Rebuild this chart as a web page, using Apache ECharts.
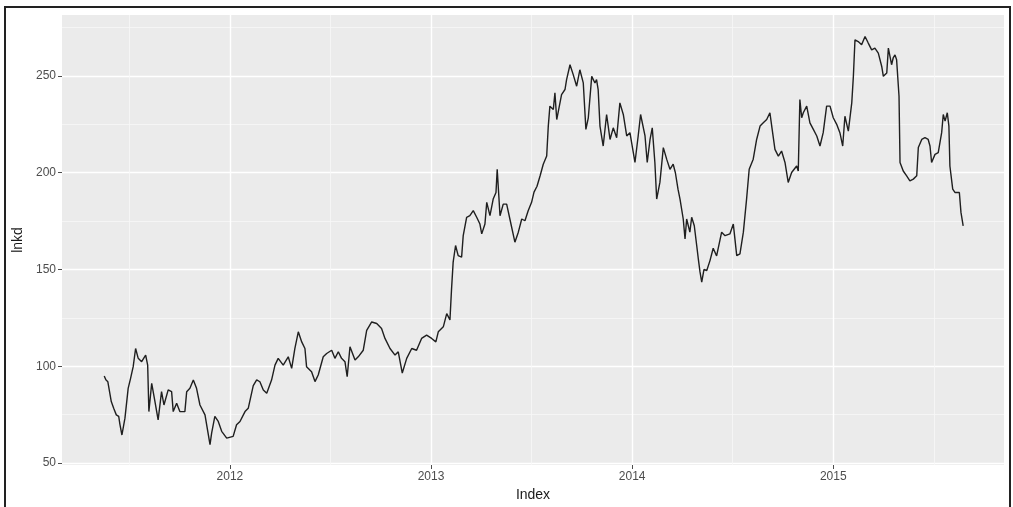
<!DOCTYPE html>
<html>
<head>
<meta charset="utf-8">
<title>lnkd</title>
<script src="https://cdn.jsdelivr.net/npm/echarts@6/dist/echarts.min.js"></script>
<style>
  body { margin: 0; background: #fff; }
  #wrap { position: relative; width: 1013px; height: 507px; overflow: hidden; }
  #chart { width: 1013px; height: 507px; }
  #frame { position: absolute; left: 4px; top: 6px; width: 1007px; height: 540px;
           box-sizing: border-box; border: 2px solid #222; pointer-events: none; }
</style>
</head>
<body>
<div id="wrap">
  <div id="chart"></div>
  <div id="frame"></div>
</div>
<script>
// index as decimal year
var years = [
  2011.375, 2011.383, 2011.393, 2011.410, 2011.422, 2011.435, 2011.447, 2011.453, 2011.463, 2011.478,
  2011.494, 2011.506, 2011.519, 2011.531, 2011.544, 2011.561, 2011.581, 2011.591, 2011.597, 2011.611,
  2011.619, 2011.627, 2011.643, 2011.660, 2011.672, 2011.693, 2011.710, 2011.718, 2011.735, 2011.751,
  2011.776, 2011.785, 2011.801, 2011.818, 2011.834, 2011.851, 2011.876, 2011.901, 2011.909, 2011.925,
  2011.942, 2011.959, 2011.984, 2012.016, 2012.033, 2012.050, 2012.075, 2012.091, 2012.116, 2012.133,
  2012.149, 2012.166, 2012.183, 2012.207, 2012.224, 2012.240, 2012.265, 2012.290, 2012.307, 2012.323,
  2012.340, 2012.357, 2012.373, 2012.381, 2012.406, 2012.423, 2012.439, 2012.464, 2012.481, 2012.506,
  2012.522, 2012.539, 2012.555, 2012.572, 2012.583, 2012.597, 2012.622, 2012.638, 2012.663, 2012.680,
  2012.705, 2012.730, 2012.754, 2012.771, 2012.796, 2012.821, 2012.837, 2012.857, 2012.879, 2012.904,
  2012.928, 2012.953, 2012.978, 2013.003, 2013.024, 2013.036, 2013.061, 2013.078, 2013.094, 2013.102,
  2013.110, 2013.122, 2013.135, 2013.152, 2013.160, 2013.177, 2013.193, 2013.210, 2013.227, 2013.243,
  2013.252, 2013.268, 2013.277, 2013.293, 2013.309, 2013.323, 2013.329, 2013.343, 2013.359, 2013.376,
  2013.392, 2013.417, 2013.434, 2013.451, 2013.467, 2013.483, 2013.500, 2013.512, 2013.527, 2013.542,
  2013.558, 2013.575, 2013.583, 2013.591, 2013.608, 2013.616, 2013.625, 2013.649, 2013.666, 2013.674,
  2013.691, 2013.707, 2013.724, 2013.740, 2013.757, 2013.770, 2013.782, 2013.799, 2013.815, 2013.823,
  2013.831, 2013.840, 2013.856, 2013.873, 2013.890, 2013.906, 2013.923, 2013.939, 2013.956, 2013.973,
  2013.989, 2014.014, 2014.030, 2014.042, 2014.064, 2014.075, 2014.089, 2014.100, 2014.113, 2014.122,
  2014.138, 2014.155, 2014.172, 2014.188, 2014.204, 2014.215, 2014.228, 2014.238, 2014.254, 2014.263,
  2014.271, 2014.287, 2014.296, 2014.309, 2014.321, 2014.329, 2014.337, 2014.346, 2014.357, 2014.371,
  2014.387, 2014.403, 2014.420, 2014.445, 2014.462, 2014.486, 2014.503, 2014.511, 2014.520, 2014.536,
  2014.553, 2014.569, 2014.582, 2014.602, 2014.619, 2014.636, 2014.652, 2014.669, 2014.685, 2014.694,
  2014.710, 2014.727, 2014.743, 2014.760, 2014.776, 2014.793, 2014.818, 2014.826, 2014.834, 2014.843,
  2014.851, 2014.868, 2014.884, 2014.901, 2014.918, 2014.934, 2014.950, 2014.967, 2014.984, 2015.000,
  2015.017, 2015.033, 2015.047, 2015.058, 2015.075, 2015.092, 2015.100, 2015.108, 2015.124, 2015.141,
  2015.158, 2015.174, 2015.191, 2015.207, 2015.224, 2015.241, 2015.249, 2015.266, 2015.274, 2015.290,
  2015.298, 2015.307, 2015.315, 2015.327, 2015.332, 2015.348, 2015.365, 2015.381, 2015.398, 2015.415,
  2015.423, 2015.440, 2015.456, 2015.472, 2015.481, 2015.489, 2015.506, 2015.522, 2015.539, 2015.547,
  2015.556, 2015.567, 2015.575, 2015.580, 2015.594, 2015.605, 2015.627, 2015.635, 2015.646
]
var lnkd = [
  95.0, 93.0, 92.0, 81.8, 78.3, 74.9, 74.1, 70.0, 64.5, 73.2,
  88.6, 93.8, 99.8, 109.2, 104.1, 102.4, 105.8, 100.6, 76.6, 91.2,
  90.3, 81.9, 72.3, 86.9, 80.0, 87.8, 86.9, 76.6, 80.9, 76.6,
  76.6, 86.9, 88.6, 92.9, 88.6, 80.0, 74.9, 59.5, 65.5, 74.1,
  71.5, 66.4, 62.9, 63.8, 69.8, 71.5, 76.6, 78.3, 90.0, 93.0,
  92.0, 87.8, 86.1, 92.9, 100.6, 104.1, 100.6, 104.9, 98.9, 109.2,
  117.8, 112.6, 109.2, 99.8, 97.2, 92.1, 95.5, 104.9, 106.6, 108.3,
  104.1, 107.5, 104.1, 102.4, 94.6, 110.1, 103.2, 104.9, 108.3, 118.6,
  122.9, 122.1, 119.5, 114.4, 109.2, 105.8, 107.5, 96.5, 104.1, 109.2,
  108.3, 114.4, 116.1, 114.4, 112.6, 117.8, 120.4, 127.2, 124.0, 140.0,
  153.8, 162.4, 157.2, 156.4, 167.5, 177.0, 177.8, 180.4, 177.0, 173.5,
  168.4, 173.5, 184.7, 177.8, 186.4, 189.8, 201.8, 177.8, 183.8, 183.8,
  176.1, 164.1, 169.3, 176.1, 175.2, 180.4, 184.7, 190.0, 193.0, 198.3,
  204.4, 208.6, 224.1, 234.4, 232.7, 241.3, 227.5, 240.4, 243.0, 248.1,
  255.8, 250.7, 244.7, 253.2, 246.4, 222.4, 228.4, 249.8, 246.4, 248.1,
  243.0, 224.1, 213.8, 230.1, 217.2, 223.2, 218.1, 236.1, 230.1, 219.0,
  220.7, 205.3, 219.0, 230.1, 219.0, 205.3, 217.2, 223.2, 205.3, 186.4,
  195.0, 213.0, 206.9, 201.8, 204.4, 200.0, 191.5, 186.4, 176.1, 165.8,
  176.1, 169.3, 177.0, 172.6, 162.4, 155.5, 149.0, 143.5, 150.0, 149.5,
  154.6, 161.0, 157.0, 169.3, 167.5, 168.4, 173.5, 165.8, 157.2, 158.1,
  169.3, 186.4, 201.8, 207.0, 217.2, 224.1, 225.8, 227.5, 231.0, 224.1,
  212.1, 208.6, 211.2, 205.3, 195.0, 200.1, 203.5, 200.9, 237.8, 228.4,
  231.0, 234.4, 225.8, 222.4, 219.0, 213.8, 220.7, 234.4, 234.4, 228.4,
  225.0, 220.7, 213.8, 229.2, 221.5, 236.1, 249.8, 268.7, 267.8, 266.1,
  270.4, 267.0, 263.5, 264.4, 261.8, 254.9, 249.8, 251.5, 264.4, 255.8,
  259.3, 260.9, 258.4, 239.5, 205.3, 200.9, 198.4, 195.8, 196.7, 198.4,
  213.0, 217.2, 218.1, 217.2, 213.8, 205.3, 209.5, 210.4, 220.7, 230.1,
  226.7, 231.0, 224.1, 203.5, 191.5, 189.8, 189.8, 179.5, 172.6
]
var yearTicks = [2012, 2013, 2014, 2015]
var yearMinor = [2011.5, 2012.5, 2013.5, 2014.5, 2015.5]
var valueTicks = [50, 100, 150, 200, 250]
var valueMinor = [75, 125, 175, 225, 275]

var xMin = 2011.165, xMax = 2015.849
var yMin = 49, yMax = 281.5

var chart = echarts.init(document.getElementById('chart'))

var seriesData = years.map(function (y, i) { return [y, lnkd[i]] })

var axisText = { color: '#4d4d4d', fontSize: 12, fontFamily: 'Liberation Sans' }
var nameText = { color: '#1a1a1a', fontSize: 14, fontFamily: 'Liberation Sans' }

chart.setOption({
  animation: false,
  grid: {
    left: 62,
    right: 9,
    top: 15,
    bottom: 40,
    show: true,
    backgroundColor: '#ebebeb',
    borderWidth: 0
  },
  xAxis: [
    {
      type: 'value',
      min: xMin,
      max: xMax,
      name: 'Index',
      nameLocation: 'middle',
      nameGap: 23,
      nameTextStyle: nameText,
      axisLine: { show: false },
      axisTick: { show: true, length: 4, customValues: yearTicks, lineStyle: { color: '#4d4d4d' } },
      axisLabel: Object.assign({ customValues: yearTicks, margin: 6,
        formatter: function (v) { return String(Math.round(v)) } }, axisText),
      splitLine: { show: true, lineStyle: { color: '#ffffff', width: 1.4 } }
    },
    {
      type: 'value',
      min: xMin,
      max: xMax,
      position: 'top',
      axisLine: { show: false },
      axisTick: { show: false, customValues: yearMinor },
      axisLabel: { show: false, customValues: yearMinor },
      splitLine: { show: true, lineStyle: { color: '#f7f7f7', width: 0.8 } }
    }
  ],
  yAxis: [
    {
      type: 'value',
      min: yMin,
      max: yMax,
      name: 'lnkd',
      nameLocation: 'middle',
      nameRotate: 90,
      nameGap: 30,
      nameTextStyle: nameText,
      axisLine: { show: false },
      axisTick: { show: true, length: 4, customValues: valueTicks, lineStyle: { color: '#4d4d4d' } },
      axisLabel: Object.assign({ customValues: valueTicks, margin: 6 }, axisText),
      splitLine: { show: true, lineStyle: { color: '#ffffff', width: 1.4 } }
    },
    {
      type: 'value',
      min: yMin,
      max: yMax,
      position: 'right',
      axisLine: { show: false },
      axisTick: { show: false, customValues: valueMinor },
      axisLabel: { show: false, customValues: valueMinor },
      splitLine: { show: true, lineStyle: { color: '#f7f7f7', width: 0.8 } }
    }
  ],
  series: [
    {
      type: 'line',
      xAxisIndex: 0,
      yAxisIndex: 0,
      data: seriesData,
      showSymbol: false,
      symbol: 'none',
      lineStyle: { color: '#1f1f1f', width: 1.4 },
      z: 5
    }
  ]
})
</script>
</body>
</html>
